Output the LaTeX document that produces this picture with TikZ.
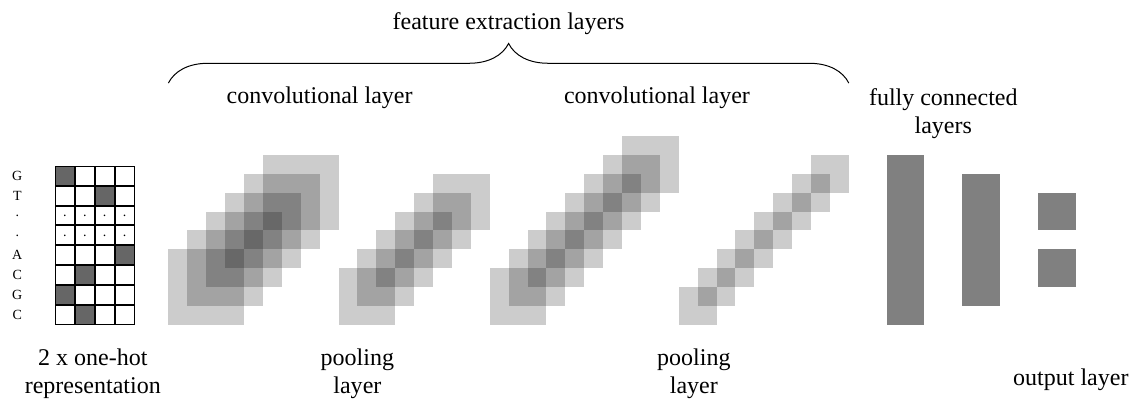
\documentclass[tikz,border=0pt]{standalone}
\usepackage{fontspec}
\setmainfont{Liberation Serif}
\usepackage{tikz}
\usetikzlibrary{positioning, matrix}
\usetikzlibrary{decorations.pathreplacing}

\begin{document}
\begin{tikzpicture}[x=9.45pt, y=9.45pt,
        fmap/.style={fill=black, fill opacity=0.2},
        dense/.style={fill=black!50},
        lbl/.style={font=\fontsize{12}{14}\selectfont, align=center, inner sep=0pt}]
        \useasboundingbox (-2.910,-4.392) rectangle (57.037,17.196);
        \matrix (oh) [matrix of nodes, nodes in empty cells, anchor=south west, inner sep=0pt, outer sep=0pt,
            row sep=0pt, column sep=0pt,
            nodes={draw, line width=0.5pt, minimum size=9.45pt, inner sep=0pt, outer sep=0pt,
                font=\fontsize{7}{8}\selectfont}] at (0,0)
        {%
            |[fill=black!60]| & & & \\
            & & |[fill=black!60]| & \\
            . & . & . & . \\
            . & . & . & . \\
            & & & |[fill=black!60]| \\
            & |[fill=black!60]| & & \\
            |[fill=black!60]| & & & \\
            & |[fill=black!60]| & & \\
        };
        \foreach \nt [count=\k] in {G,T,.,.,A,C,G,C}
            \node[font=\fontsize{7}{8}\selectfont, minimum size=9.45pt, inner sep=0pt,
                left=14.175pt of oh-\k-1] (nt-\k) {\nt};
        % feature maps
        \foreach \i in {0,...,5}
            \fill[fmap] (6+\i,\i) rectangle ++(4,4);
        \foreach \i in {0,...,5}
            \fill[fmap] (15+\i,\i) rectangle ++(3,3);
        \foreach \i in {0,...,7}
            \fill[fmap] (23+\i,\i) rectangle ++(3,3);
        \foreach \i in {0,...,7}
            \fill[fmap] (33+\i,\i) rectangle ++(2,2);
        % dense layers
        \fill[dense] (44,0) rectangle (46,9);
        \fill[dense] (48,1) rectangle (50,8);
        \fill[dense] (52,5) rectangle (54,7);
        \fill[dense] (52,2) rectangle (54,4);
        % labels
        \coordinate (fx-l) at (6,12.8);
        \coordinate (fx-r) at (42,12.8);
        \draw[line width=0.5pt, decorate, decoration={brace, amplitude=19.8pt}] (fx-l) -- (fx-r);
        \node[lbl] (fx) at (24,15.93) {feature extraction layers};
        \node[lbl] (conv-1) at (14.0,12.0) {convolutional layer};
        \node[lbl] (conv-2) at (31.85,12.0) {convolutional layer};
        \node[lbl] (fc) at (47.0,11.16) {fully connected\\layers};
        \node[lbl] (inp) at (2,-2.6) {2 x one-hot\\representation};
        \node[lbl] (pool-1) at (16,-2.6) {pooling\\layer};
        \node[lbl] (pool-2) at (33.8,-2.6) {pooling\\layer};
        \node[lbl] (out) at (53.75,-2.9) {output layer};
    \end{tikzpicture}
\end{document}
